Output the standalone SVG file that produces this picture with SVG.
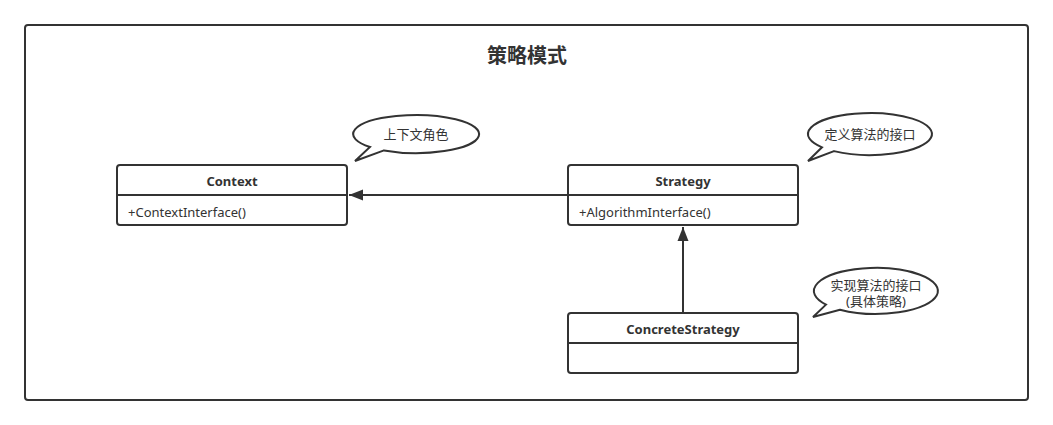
<svg xmlns="http://www.w3.org/2000/svg" width="1053" height="425" viewBox="0 0 1053 425">
<style>
.box{fill:#fff;stroke:#333;stroke-width:2}
.ln{stroke:#333;stroke-width:2;fill:none}
.t{font-family:"Noto Sans","Noto Sans CJK SC",sans-serif;font-size:13px;fill:#333}
.b{font-weight:bold;text-anchor:middle}
.c{text-anchor:middle}
.callout{fill:#fff;stroke:#333;stroke-width:2;stroke-linejoin:miter}
</style>
<defs>
<marker id="arr" markerWidth="16" markerHeight="12" refX="15" refY="6" orient="auto" markerUnits="userSpaceOnUse">
<path d="M1,0.5 L15,6 L1,11.5 Z" fill="#333"/>
</marker>
</defs>
<rect id="frame" x="25" y="25" width="1003" height="375" rx="3" fill="#fff" stroke="#333" stroke-width="2"/>
<text x="527" y="63" class="t c" style="font-size:20px;font-weight:bold">策略模式</text>
<g id="connectors">
<line class="ln" x1="568" y1="195" x2="349" y2="195" marker-end="url(#arr)"/>
<line class="ln" x1="683" y1="313" x2="683" y2="227" marker-end="url(#arr)"/>
</g>
<g id="context">
<rect class="box" x="117" y="165" width="230" height="60" rx="3"/>
<line class="ln" x1="117" y1="195" x2="347" y2="195"/>
<text class="t b" x="232" y="186">Context</text>
<text class="t" x="128" y="217">+ContextInterface()</text>
</g>
<g id="strategy">
<rect class="box" x="568" y="165" width="230" height="60" rx="3"/>
<line class="ln" x1="568" y1="195" x2="798" y2="195"/>
<text class="t b" x="683" y="186">Strategy</text>
<text class="t" x="579" y="217">+AlgorithmInterface()</text>
</g>
<g id="concrete">
<rect class="box" x="568" y="313" width="230" height="60" rx="3"/>
<line class="ln" x1="568" y1="343" x2="798" y2="343"/>
<text class="t b" x="683" y="334">ConcreteStrategy</text>
</g>
<g id="note1">
<path class="callout" d="M384,150.4 L355,161 L370,147 A63 19 0 1 1 384,150.4 Z"/>
<text class="t c" x="416" y="139">上下文角色</text>
</g>
<g id="note2">
<path class="callout" d="M834,151.1 L808,161 L822,147.3 A62 21 0 1 1 834,151.1 Z"/>
<text class="t c" x="870" y="139">定义算法的接口</text>
</g>
<g id="note3">
<path class="callout" d="M840,309.7 L813,317 L826,304.6 A62 23 0 1 1 840,309.7 Z"/>
<text class="t c" x="876" y="290">实现算法的接口</text>
<text class="t c" x="876" y="306">(具体策略)</text>
</g>
</svg>
